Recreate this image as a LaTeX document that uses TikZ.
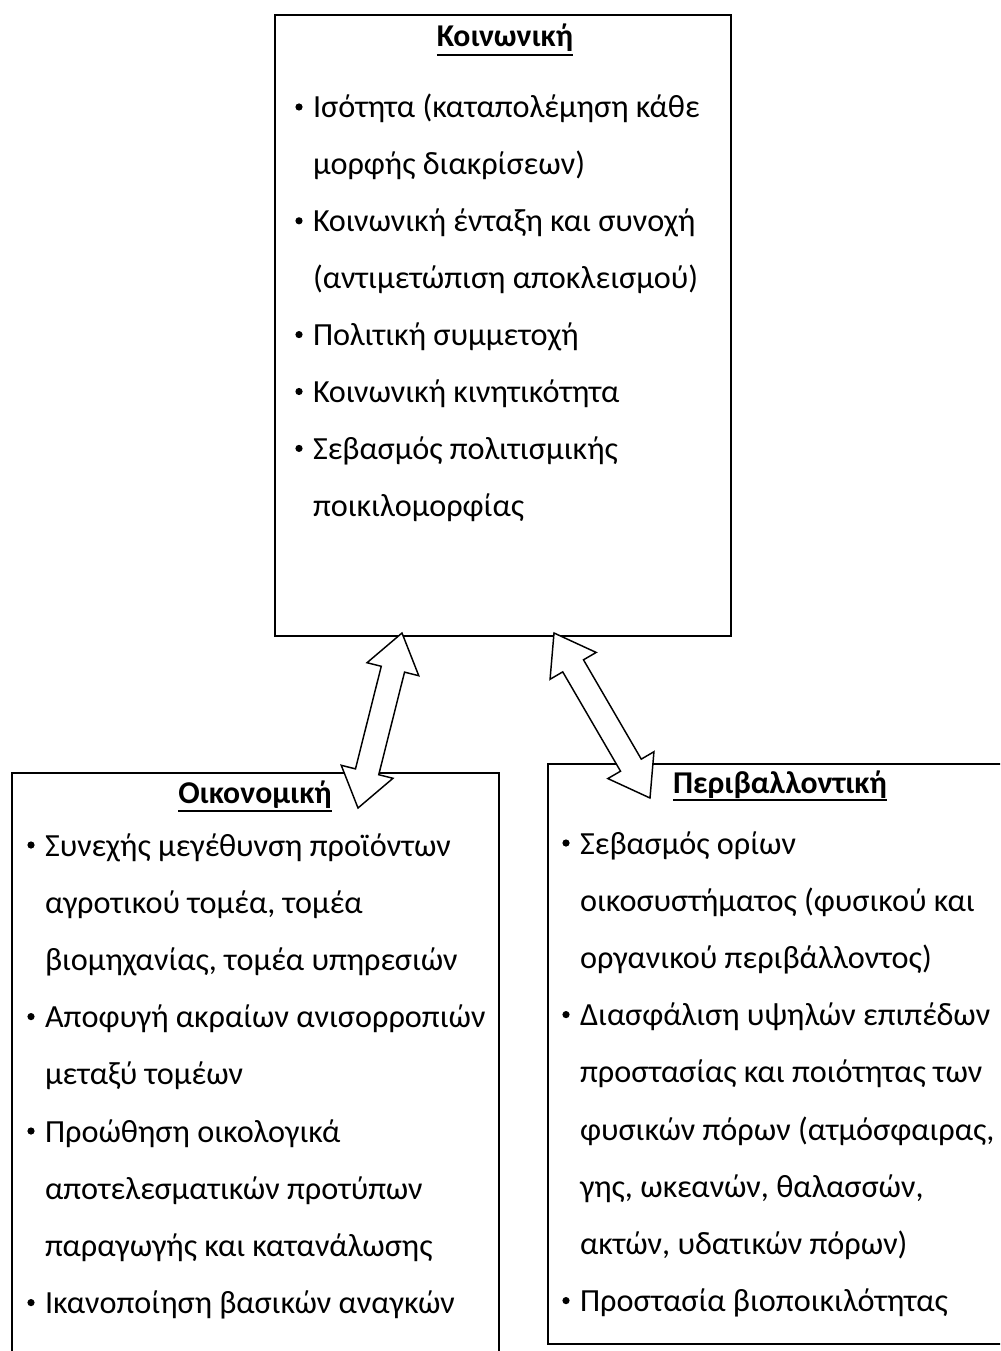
\documentclass[tikz,border=0pt]{standalone}
\usepackage{fontspec}
\setmainfont{Carlito}
\usetikzlibrary{calc}
\tikzset{
  box/.style={draw=black, line width=1.5pt, fill=white},
  txt/.style={anchor=base west, inner sep=0pt, outer sep=0pt, font=\fontsize{24.2pt}{30pt}\selectfont},
  ttl/.style={anchor=base, inner sep=0pt, outer sep=0pt, font=\fontsize{23.8pt}{30pt}\selectfont\bfseries},
  bul/.style={circle, fill=black, inner sep=0pt, minimum size=5.4pt},
  uline/.style={line width=1.6pt},
  blockarrow/.style={draw=black, line width=1.1pt, fill=white, line join=miter}
}
\newcommand\dblblock[5]{% A, B, head length, head half width, shaft half width
  \draw[blockarrow]
    ($(#1)!#3!(#2)$) coordinate (h1)
    ($(#2)!#3!(#1)$) coordinate (h2)
    (#1) -- ($(h1)!#4!90:(#2)$) -- ($(h1)!#5!90:(#2)$) -- ($(h2)!#5!-90:(#1)$)
    -- ($(h2)!#4!-90:(#1)$) -- (#2) -- ($(h2)!#4!90:(#1)$) -- ($(h2)!#5!90:(#1)$)
    -- ($(h1)!#5!-90:(#2)$) -- ($(h1)!#4!-90:(#2)$) -- cycle;}
\begin{document}
\begin{tikzpicture}[x=0.75pt, y=-0.75pt]
\useasboundingbox (0,0) rectangle (1000,1351);
\clip (0,0) rectangle (1000,1351);
% boxes
\node[box, minimum width=456*0.75pt, minimum height=621*0.75pt, anchor=north west, inner sep=0pt] (soc) at (274,14) {};
\node[box, minimum width=487*0.75pt, minimum height=700*0.75pt, anchor=north west, inner sep=0pt] (eco) at (11,772) {};
\node[box, minimum width=470*0.75pt, minimum height=580*0.75pt, anchor=north west, inner sep=0pt] (env) at (547,763) {};
% titles
\node[ttl] (socT) at (505,47) {Κοινωνική};
\draw[uline] ($(socT.base west)+(0,8)$) -- ($(socT.base east)+(0,8)$);
\node[ttl] (ecoT) at (255,803) {Οικονομική};
\draw[uline] ($(ecoT.base west)+(0,8)$) -- ($(ecoT.base east)+(0,8)$);
\node[ttl] (envT) at (780,793) {Περιβαλλοντική};
\draw[uline] ($(envT.base west)+(0,7)$) -- ($(envT.base east)+(0,7)$);
% top box lines
\foreach \t [count=\i] in {{Ισότητα (καταπολέμηση κάθε},{μορφής διακρίσεων)},{Κοινωνική ένταξη και συνοχή},{(αντιμετώπιση αποκλεισμού)},{Πολιτική συμμετοχή},{Κοινωνική κινητικότητα},{Σεβασμός πολιτισμικής},{ποικιλομορφίας}}
  \node[txt] (s\i) at (313,{118+56.9*(\i-1)}) {\t};
\foreach \i in {1,3,5,6,7}
  \node[bul] (sb\i) at ($(s\i.base west)+(-14,-11)$) {};
% left box lines
\foreach \t [count=\i] in {{Συνεχής μεγέθυνση προϊόντων},{αγροτικού τομέα, τομέα},{βιομηχανίας, τομέα υπηρεσιών},{Αποφυγή ακραίων ανισορροπιών},{μεταξύ τομέων},{Προώθηση οικολογικά},{αποτελεσματικών προτύπων},{παραγωγής και κατανάλωσης},{Ικανοποίηση βασικών αναγκών}}
  \node[txt] (e\i) at (45,{856+57.2*(\i-1)}) {\t};
\foreach \i in {1,4,6,9}
  \node[bul] (eb\i) at ($(e\i.base west)+(-14,-11)$) {};
% right box lines
\foreach \t [count=\i] in {{Σεβασμός ορίων},{οικοσυστήματος (φυσικού και},{οργανικού περιβάλλοντος)},{Διασφάλιση υψηλών επιπέδων},{προστασίας και ποιότητας των},{φυσικών πόρων (ατμόσφαιρας,},{γης, ωκεανών, θαλασσών,},{ακτών, υδατικών πόρων)},{Προστασία βιοποικιλότητας}}
  \node[txt] (v\i) at (580,{854+57.2*(\i-1)}) {\t};
\foreach \i in {1,4,9}
  \node[bul] (vb\i) at ($(v\i.base west)+(-14,-11)$) {};
% arrows
\coordinate (a1) at (402,633);
\coordinate (b1) at (358,808);
\coordinate (a2) at (554,633);
\coordinate (b2) at (650,798);
\dblblock{a1}{b1}{28pt}{20pt}{9pt}
\dblblock{a2}{b2}{28.5pt}{20pt}{9pt}
\end{tikzpicture}
\end{document}
